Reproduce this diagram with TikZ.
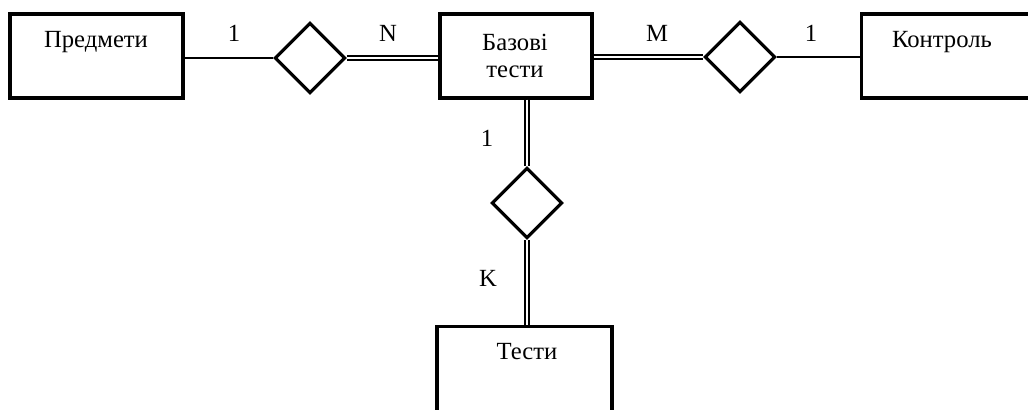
\documentclass[tikz,border=0pt]{standalone}
\usepackage{fontspec}
\setmainfont{Liberation Serif}
\usetikzlibrary{shapes.geometric}
\begin{document}
\begin{tikzpicture}[x=0.75pt,y=-0.75pt,
  ent/.style={draw, line width=2.4pt, rectangle, inner sep=0pt},
  rel/.style={draw, line width=2.4pt, diamond, aspect=1, inner sep=0pt, minimum width=53pt, minimum height=53pt},
  lbl/.style={font=\fontsize{18.5}{20.5}\selectfont, inner sep=0pt, align=center},
  one/.style={line width=0.8pt},
  many/.style={line width=1.6pt, double, double distance=0.9pt}]
\useasboundingbox (0,0) rectangle (1028,410);
\clip (0,0) rectangle (1028,410);
% entities
\node[ent, minimum width=129.75pt, minimum height=63pt] (pr) at (96.5,56) {};
\node[ent, minimum width=114pt, minimum height=63pt] (bt) at (516,56) {};
\node[ent, minimum width=135pt, minimum height=63pt, anchor=west] (ko) at (860,56) {};
\node[ent, minimum width=131.25pt, minimum height=75pt, anchor=north] (te) at (524.5,325) {};
% texts
\node[lbl] (prt) at (96,42) {Предмети};
\node[lbl] (btt) at (515,56) {Базові\\тести};
\node[lbl] (kot) at (942,42) {Контроль};
\node[lbl] (tet) at (527,352) {Тести};
% relationships
\node[rel] (r1) at (310,58) {};
\node[rel] (r2) at (740,57) {};
\node[rel] (r3) at (527,203) {};
% connectors
\draw[one] (pr.east |- r1.west) -- (r1.west);
\draw[many] (r1.east) -- (bt.west |- r1.east);
\draw[many] (bt.east |- r2.west) -- (r2.west);
\draw[one] (r2.east) -- (ko.west |- r2.east);
\draw[many] (r3.north |- bt.south) -- (r3.north);
\draw[many] (r3.south) -- (r3.south |- te.north);
% cardinalities
\node[lbl] (c1) at (234,33) {1};
\node[lbl] (c2) at (388,33) {N};
\node[lbl] (c3) at (657,33) {M};
\node[lbl] (c4) at (811,33) {1};
\node[lbl] (c5) at (487,138) {1};
\node[lbl] (c6) at (488,278) {K};
\end{tikzpicture}
\end{document}
